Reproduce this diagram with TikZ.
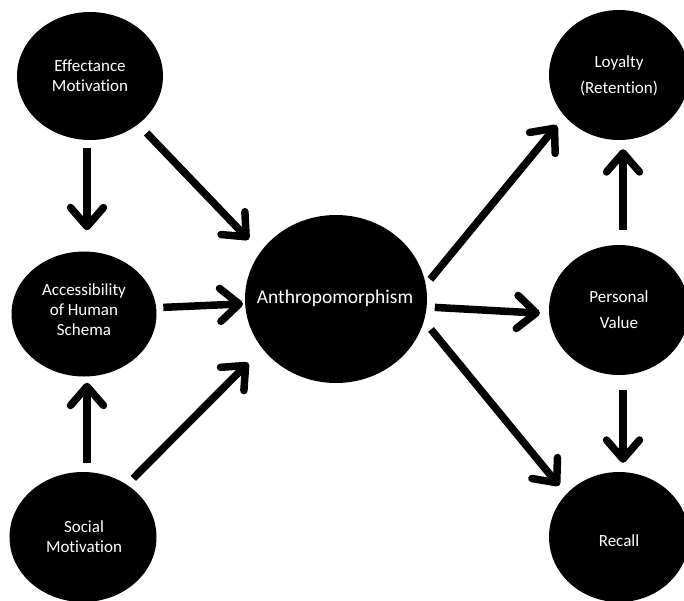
\documentclass[tikz,border=0pt]{standalone}
\usepackage{fontspec}
\setmainfont{Carlito}[Ligatures=NoCommon]
\usetikzlibrary{shapes.geometric,arrows.meta,calc}
\begin{document}
\begin{tikzpicture}[x=1pt,y=-1pt,
  blob/.style={ellipse,fill=black,draw=none,inner sep=0pt},
  lbl/.style={text=white,font=\fontsize{17}{20}\selectfont,align=center,inner sep=0pt},
  widelbl/.style={lbl,font=\fontsize{17}{26}\selectfont},
  biglbl/.style={lbl,font=\fontsize{19.5}{23}\selectfont},
  arr/.style={line width=7.5pt,-{Straight Barb[length=19pt,width=33pt,round]}}]
\useasboundingbox (0,0) rectangle (684,600);

% ellipses
\node[blob,minimum width=146pt,minimum height=128pt] (em) at (90,76) {};
\node[blob,minimum width=145pt,minimum height=125pt] (ac) at (84,314) {};
\node[blob,minimum width=147pt,minimum height=130pt] (so) at (83,537) {};
\node[blob,minimum width=182pt,minimum height=168pt] (an) at (336,299) {};
\node[blob,minimum width=140pt,minimum height=130pt] (ly) at (619,75) {};
\node[blob,minimum width=140pt,minimum height=130pt] (pv) at (619,310) {};
\node[blob,minimum width=140pt,minimum height=130pt] (rc) at (619,537) {};

% labels
\node[lbl] (emt) at (90,76) {Effectance\\Motivation};
\node[lbl] (act) at (84,310) {Accessibility\\of Human\\Schema};
\node[lbl] (sot) at (84,537) {Social\\Motivation};
\node[biglbl] (ant) at (335,298) {Anthropomorphism};
\node[widelbl] (lyt) at (619,76) {Loyalty\\(Retention)};
\node[widelbl] (pvt) at (619,310) {Personal\\Value};
\node[lbl] (rct) at (619,541) {Recall};

% connectors
\draw[arr,shorten <=8pt,shorten >=21pt] ([xshift=-3pt]em.south) -- ([xshift=3pt]ac.north);
\draw[arr,shorten <=9pt,shorten >=6pt] ([xshift=4pt]so.north) -- ([xshift=3pt]ac.south);
\draw[arr,shorten <=12pt,shorten >=17pt] (em.-45) -- (an.148);
\draw[arr,shorten <=7pt,shorten >=2pt] (ac.5) -- (an.183);
\draw[arr,shorten <=9pt,shorten >=20pt] (so.50) -- (an.214);
\draw[arr,shorten <=7pt,shorten >=12pt] (an.9) -- (ly.217);
\draw[arr,shorten <=8pt,shorten >=9pt] (an.-5) -- (pv.183);
\draw[arr,shorten <=11pt,shorten >=11pt] (an.-14) -- (rc.141);
\draw[arr,shorten <=15pt,shorten >=9pt] ([xshift=4pt]pv.north) -- ([xshift=4pt]ly.south);
\draw[arr,shorten <=15pt,shorten >=9pt] ([xshift=4pt]pv.south) -- ([xshift=4pt]rc.north);
\end{tikzpicture}
\end{document}
